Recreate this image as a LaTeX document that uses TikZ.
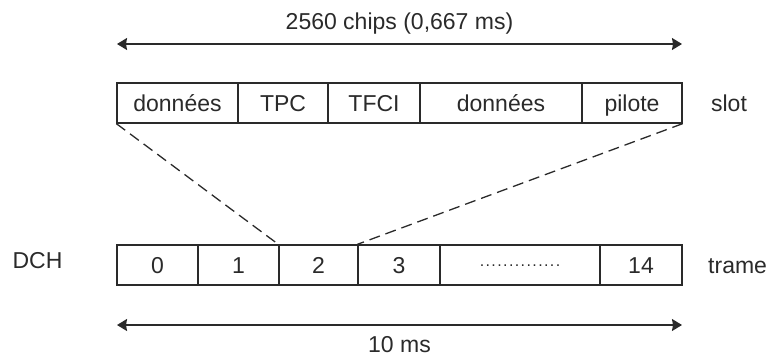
\documentclass[tikz,border=0pt]{standalone}
\usepackage{fontspec}
\setmainfont{Liberation Sans}
\usetikzlibrary{arrows.meta}
\definecolor{ink}{HTML}{2A2A2A}
\tikzset{
  cell/.style={draw=ink, line width=1.3pt, rectangle, inner sep=0pt, minimum height=40pt,
    text height=16.5pt, text depth=0pt, font=\fontsize{23}{27}\selectfont, text=ink},
  lbl/.style={inner sep=0pt, text height=16.5pt, text depth=0pt, font=\fontsize{23}{27}\selectfont, text=ink},
  dim/.style={draw=ink, line width=1.5pt, {Stealth[length=10pt,width=12pt,inset=1pt]}-{Stealth[length=10pt,width=12pt,inset=1pt]}},
  link/.style={draw=ink, line width=1.3pt, dash pattern=on 11pt off 6pt}
}
\begin{document}
\begin{tikzpicture}[x=1pt,y=-1pt]
\useasboundingbox (0,0) rectangle (769,356);
% top dimension
\coordinate (t1) at (117,44);
\coordinate (t2) at (682,44);
\draw[dim] (t1) -- (t2);
\node[lbl] (ttop) at (399.5,21) {2560 chips (0,667 ms)};
% slot
\node[cell, minimum width=121pt] (s1) at (177.5,103) {données};
\node[cell, minimum width=90pt] (s2) at (283,103) {TPC};
\node[cell, minimum width=92pt] (s3) at (374,103) {TFCI};
\node[cell, minimum width=162pt] (s4) at (501,103) {données};
\node[cell, minimum width=100pt] (s5) at (632,103) {pilote};
\node[lbl] (slot) at (729,103) {slot};
% frame
\node[cell, minimum width=81pt] (f0) at (157.5,265) {0};
\node[cell, minimum width=81pt] (f1) at (238.5,265) {1};
\node[cell, minimum width=79pt] (f2) at (318.5,265) {2};
\node[cell, minimum width=82pt] (f3) at (399,265) {3};
\node[cell, minimum width=160pt, font=\fontsize{16}{18}\selectfont, text height=2.5pt] (f4) at (520,265)
  {.\kern1.4pt.\kern1.4pt.\kern1.4pt.\kern1.4pt.\kern1.4pt.\kern1.4pt.\kern1.4pt.\kern1.4pt.\kern1.4pt.\kern1.4pt.\kern1.4pt.\kern1.4pt.\kern1.4pt.};
\node[cell, minimum width=82pt] (f5) at (641,265) {14};
\node[lbl] (dch) at (37.5,260) {DCH};
\node[lbl, anchor=west] (trame) at (708,265) {trame};
% dashed links
\draw[link] (s1.south west) -- (f2.north west);
\draw[link] (s5.south east) -- (f3.north west);
% bottom dimension
\coordinate (b1) at (117,325);
\coordinate (b2) at (682,325);
\draw[dim] (b1) -- (b2);
\node[lbl] (tbot) at (399.5,344) {10 ms};
\end{tikzpicture}
\end{document}
